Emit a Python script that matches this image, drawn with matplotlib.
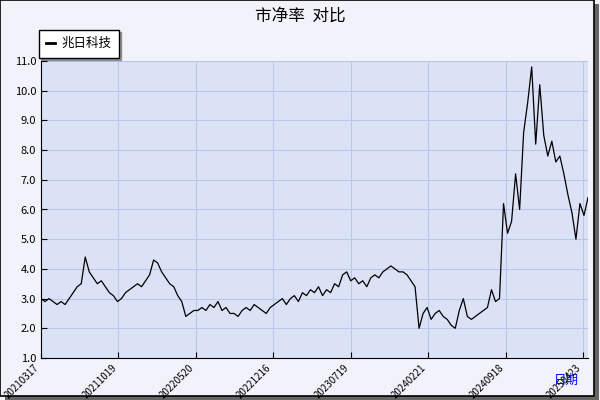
import matplotlib
matplotlib.use('Agg')
import matplotlib.pyplot as plt
from matplotlib.patches import Rectangle

plt.rcParams['font.family'] = ['Noto Sans CJK SC', 'DejaVu Sans']

title = '市净率  对比'
series_name = '兆日科技'
tick_labels = ['20210317', '20211019', '20220520', '20221216',
               '20230719', '20240221', '20240918', '20250423']
pb = [3.0, 2.9, 3.0, 2.9, 2.8, 2.9, 2.8, 3.0, 3.2, 3.4,
      3.5, 4.4, 3.9, 3.7, 3.5, 3.6, 3.4, 3.2, 3.1, 2.9,
      3.0, 3.2, 3.3, 3.4, 3.5, 3.4, 3.6, 3.8, 4.3, 4.2,
      3.9, 3.7, 3.5, 3.4, 3.1, 2.9, 2.4, 2.5, 2.6, 2.6,
      2.7, 2.6, 2.8, 2.7, 2.9, 2.6, 2.7, 2.5, 2.5, 2.4,
      2.6, 2.7, 2.6, 2.8, 2.7, 2.6, 2.5, 2.7, 2.8, 2.9,
      3.0, 2.8, 3.0, 3.1, 2.9, 3.2, 3.1, 3.3, 3.2, 3.4,
      3.1, 3.3, 3.2, 3.5, 3.4, 3.8, 3.9, 3.6, 3.7, 3.5,
      3.6, 3.4, 3.7, 3.8, 3.7, 3.9, 4.0, 4.1, 4.0, 3.9,
      3.9, 3.8, 3.6, 3.4, 2.0, 2.5, 2.7, 2.3, 2.5, 2.6,
      2.4, 2.3, 2.1, 2.0, 2.6, 3.0, 2.4, 2.3, 2.4, 2.5,
      2.6, 2.7, 3.3, 2.9, 3.0, 6.2, 5.2, 5.6, 7.2, 6.0,
      8.6, 9.6, 10.8, 8.2, 10.2, 8.5, 7.8, 8.3, 7.6, 7.8,
      7.2, 6.5, 5.9, 5.0, 6.2, 5.8, 6.4]

fig = plt.figure(figsize=(6, 4), dpi=100, facecolor='#f2f2fa')
# outer border with shadow
fig.patches.append(Rectangle((0.008, 0.0), 0.99, 0.99, transform=fig.transFigure,
                             facecolor='#666666', edgecolor='none', zorder=-2))
fig.patches.append(Rectangle((0.0, 0.01), 0.99, 0.99, transform=fig.transFigure,
                             facecolor='#f2f2fa', edgecolor='black', lw=1.2, zorder=-1))

ax = fig.add_axes([41 / 600, 1 - 358 / 400, 547 / 600, 297 / 400])
ax.set_facecolor('#dce2f6')
n = len(pb)
ax.plot(range(n), pb, color='black', lw=0.9)
ax.set_xlim(0, n - 1)
ax.set_ylim(1.0, 11.0)
ax.set_yticks([1 + i for i in range(11)])
ax.set_yticklabels([f'{1 + i:.1f}' for i in range(11)], fontsize=8)
step = 77 / 4
ax.set_xticks([i * step for i in range(len(tick_labels))])
ax.set_xticklabels(tick_labels, rotation=45, ha='right', fontsize=7)
ax.grid(True, color='#b8c6ea', lw=0.8)
for s in ['top', 'right']:
    ax.spines[s].set_visible(False)
ax.tick_params(direction='in', length=4)

fig.text(0.5, 0.96, title, ha='center', va='center', fontsize=12)
fig.text(0.965, 0.05, '日期', color='blue', ha='right', va='center', fontsize=9)

leg = fig.legend([plt.Line2D([], [], color='black', lw=2)], [series_name],
                 loc='upper left', bbox_to_anchor=(36 / 600, 1 - 27 / 400),
                 fancybox=False, shadow=True, fontsize=9, handlelength=0.7,
                 framealpha=1, edgecolor='black', borderpad=0.6,
                 handletextpad=0.5, borderaxespad=0.2)
leg.get_frame().set_facecolor('white')

fig.savefig('out.png', dpi=100, facecolor=fig.get_facecolor())
